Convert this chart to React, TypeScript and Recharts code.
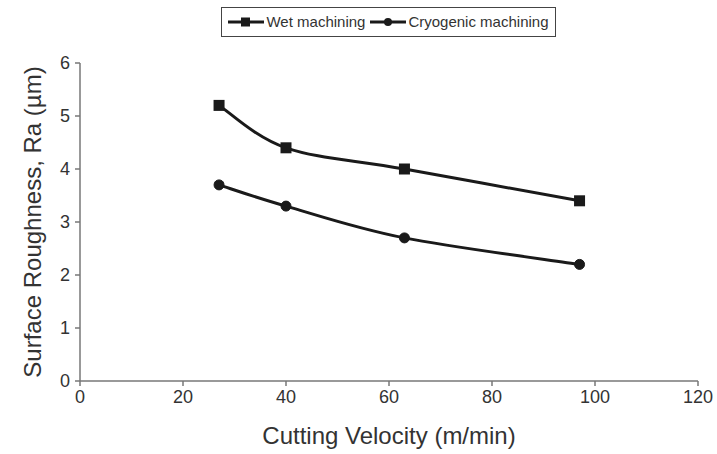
import { LineChart, Line, XAxis, YAxis, Legend, Label } from 'recharts';

const velocity = [27, 40, 63, 97];
const wetRa = [5.2, 4.4, 4.0, 3.4];
const cryoRa = [3.7, 3.3, 2.7, 2.2];
const xTicks = [0, 20, 40, 60, 80, 100, 120];
const yTicks = [0, 1, 2, 3, 4, 5, 6];

const data = velocity.map((v, i) => ({ v, wet: wetRa[i], cryo: cryoRa[i] }));

const INK = '#1a1a1a';
const AXIS = '#777';
const FONT = '"Liberation Sans", Arial, sans-serif';

// spreadsheet-style smoothed line (cardinal spline through each point)
const smoothCurve = (context: any) => {
  let pts: number[][] = [];
  const k = 1 / 6;
  return {
    areaStart() {},
    areaEnd() {},
    lineStart() {
      pts = [];
    },
    point(x: number, y: number) {
      pts.push([+x, +y]);
    },
    lineEnd() {
      if (!pts.length) return;
      context.moveTo(pts[0][0], pts[0][1]);
      for (let i = 0; i < pts.length - 1; i++) {
        const p0 = pts[i - 1] || pts[i];
        const p1 = pts[i];
        const p2 = pts[i + 1];
        const p3 = pts[i + 2] || pts[i + 1];
        context.bezierCurveTo(
          p1[0] + k * (p2[0] - p0[0]),
          p1[1] + k * (p2[1] - p0[1]),
          p2[0] - k * (p3[0] - p1[0]),
          p2[1] - k * (p3[1] - p1[1]),
          p2[0],
          p2[1]
        );
      }
    },
  };
};

const SquareDot = (props: any) => {
  const { cx, cy } = props;
  if (cx == null || cy == null) return null;
  return <rect x={cx - 5.5} y={cy - 5.5} width={11} height={11} fill={INK} />;
};

const CircleDot = (props: any) => {
  const { cx, cy } = props;
  if (cx == null || cy == null) return null;
  return <circle cx={cx} cy={cy} r={5} fill={INK} stroke={INK} strokeWidth={1} />;
};

const LegendBox = () => (
  <div
    style={{
      display: 'inline-flex',
      alignItems: 'center',
      border: '1.5px solid #444',
      padding: '5px 6px',
      fontFamily: FONT,
      fontSize: 15,
      lineHeight: '18px',
      color: '#333',
      background: '#fff',
    }}
  >
    <svg width={36} height={12}>
      <line x1={0} y1={6} x2={36} y2={6} stroke={INK} strokeWidth={3} />
      <rect x={13} y={1.5} width={9} height={9} fill={INK} />
    </svg>
    <span style={{ marginLeft: 2, marginRight: 5 }}>Wet machining</span>
    <svg width={36} height={12}>
      <line x1={0} y1={6} x2={36} y2={6} stroke={INK} strokeWidth={3} />
      <circle cx={18} cy={6} r={4} fill={INK} />
    </svg>
    <span style={{ marginLeft: 2 }}>Cryogenic machining</span>
  </div>
);

export default function App() {
  return (
    <div style={{ position: 'absolute', left: 0, top: 0, background: '#fff' }}>
      <LineChart
        width={717}
        height={454}
        data={data}
        margin={{ top: 33, right: 19, bottom: 8, left: 20 }}
      >
        <XAxis
          dataKey="v"
          type="number"
          domain={[0, 120]}
          ticks={xTicks}
          tickSize={5}
          stroke={AXIS}
          strokeWidth={1.5}
          height={65}
          tick={{ fill: '#333', fontSize: 18, fontFamily: FONT }}
          tickMargin={4}
        >
          <Label
            value="Cutting Velocity (m/min)"
            position="insideBottom"
            offset={2}
            style={{ fill: '#333', fontSize: 24, fontFamily: FONT }}
          />
        </XAxis>
        <YAxis
          type="number"
          domain={[0, 6]}
          ticks={yTicks}
          tickSize={5}
          stroke={AXIS}
          strokeWidth={1.5}
          width={60}
          tick={{ fill: '#333', fontSize: 18, fontFamily: FONT }}
          tickMargin={5}
        >
          <Label
            value="Surface Roughness, Ra (µm)"
            angle={-90}
            position="insideLeft"
            offset={12}
            style={{ textAnchor: 'middle', fill: '#333', fontSize: 24, fontFamily: FONT }}
          />
        </YAxis>
        <Legend
          verticalAlign="top"
          align="center"
          content={<LegendBox />}
          wrapperStyle={{ top: 7, left: 60, width: 657, textAlign: 'center', lineHeight: 'normal' }}
        />
        <Line
          dataKey="wet"
          name="Wet machining"
          type={smoothCurve as any}
          stroke={INK}
          strokeWidth={3}
          dot={<SquareDot />}
          activeDot={false}
          isAnimationActive={false}
        />
        <Line
          dataKey="cryo"
          name="Cryogenic machining"
          type={smoothCurve as any}
          stroke={INK}
          strokeWidth={3}
          dot={<CircleDot />}
          activeDot={false}
          isAnimationActive={false}
        />
      </LineChart>
    </div>
  );
}
